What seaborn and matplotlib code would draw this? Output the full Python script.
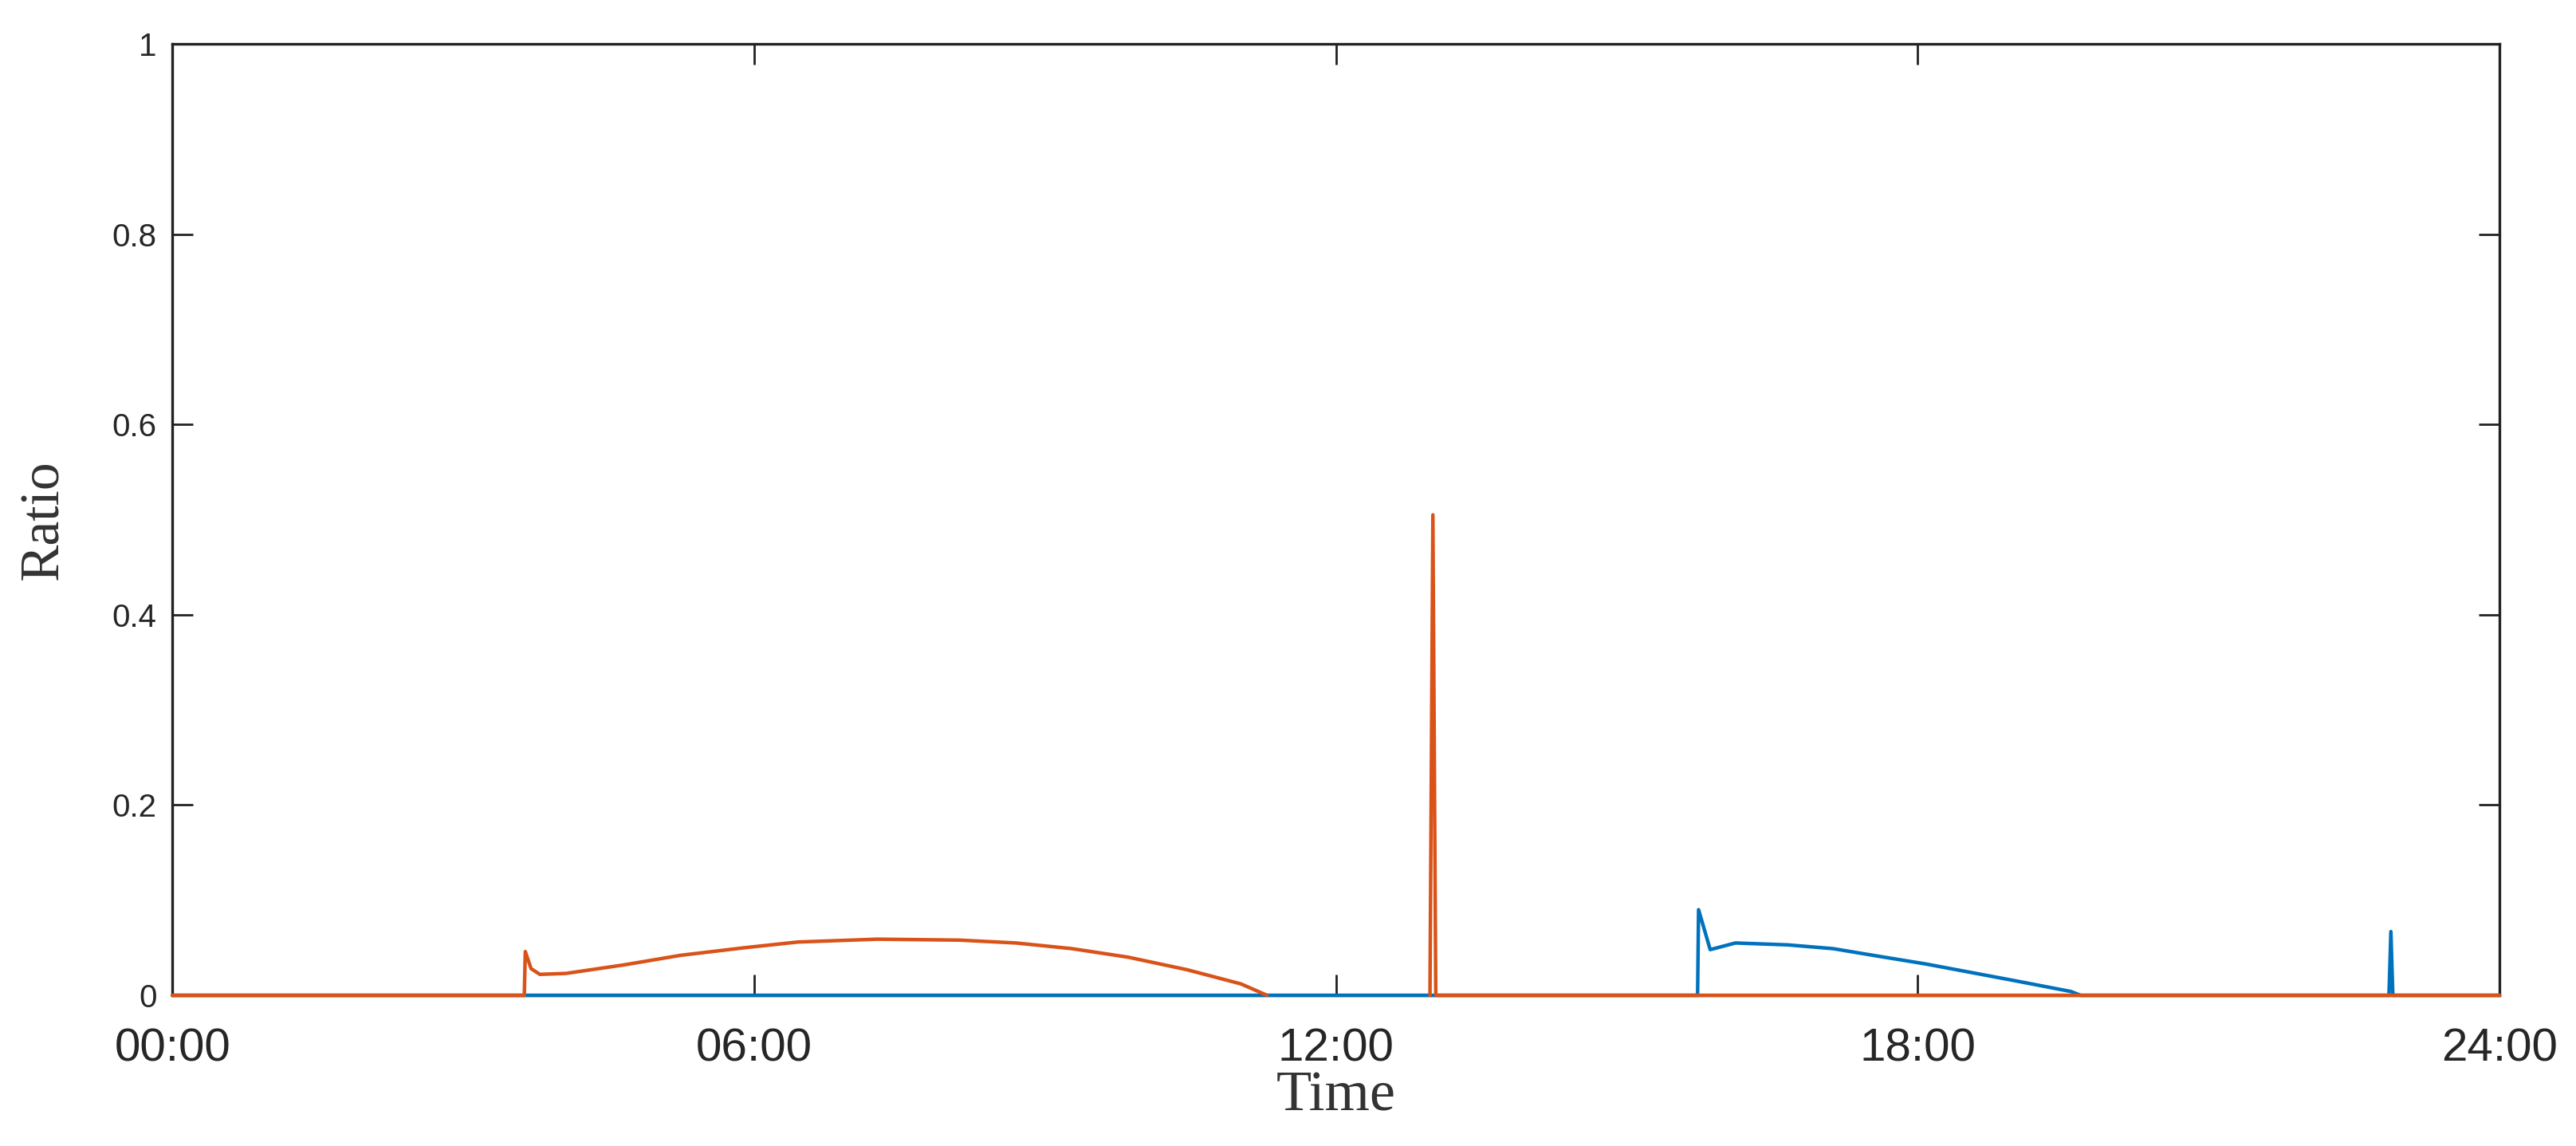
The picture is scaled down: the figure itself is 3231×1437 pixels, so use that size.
import numpy as np
import pandas as pd
import matplotlib
matplotlib.use("Agg")
import matplotlib.pyplot as plt
import seaborn as sns

# data (time in hours)
blue_hours = [0, 15.73, 15.74, 15.86, 16.12, 16.66, 17.13, 17.60, 18.08, 18.55,
              19.02, 19.58, 19.68, 22.86, 22.88, 22.90, 24]
blue_ratio = [0, 0, 0.090, 0.048, 0.055, 0.053, 0.049, 0.041, 0.033, 0.024,
              0.015, 0.004, 0, 0, 0.067, 0, 0]

orange_am_hours = [0, 3.63, 3.64, 3.70, 3.79, 4.06, 4.66, 5.24, 5.90, 6.45, 7.27,
                   8.12, 8.70, 9.28, 9.86, 10.46, 11.02, 11.29]
orange_am_ratio = [0, 0, 0.046, 0.028, 0.022, 0.023, 0.032, 0.042, 0.050, 0.056, 0.059,
                   0.058, 0.055, 0.049, 0.040, 0.027, 0.012, 0]

orange_pm_hours = [12.97, 13.0, 13.03, 24]
orange_pm_ratio = [0, 0.505, 0, 0]

x_ticks = [0, 6, 12, 18, 24]
x_labels = ["00:00", "06:00", "12:00", "18:00", "24:00"]
y_ticks = [0, 0.2, 0.4, 0.6, 0.8, 1]
y_labels = ["0", "0.2", "0.4", "0.6", "0.8", "1"]

blue = "#0072BD"
orange = "#D95319"

sns.set_style("white")

fig = plt.figure(figsize=(32.31, 14.37), dpi=100)
ax = fig.add_axes([0.0669, 0.1315, 0.9034, 0.8302])

line_kw = dict(linewidth=3.2, ax=ax, clip_on=False, zorder=3)
sns.lineplot(x=blue_hours, y=blue_ratio, color=blue, **line_kw)
sns.lineplot(x=orange_am_hours, y=orange_am_ratio, color=orange, **line_kw)
sns.lineplot(x=orange_pm_hours, y=orange_pm_ratio, color=orange, **line_kw)

ax.set_xlim(0, 24)
ax.set_ylim(0, 1)
ax.set_xticks(x_ticks)
ax.set_xticklabels(x_labels, fontfamily="Liberation Sans", fontsize=42, color="#262626")
ax.set_yticks(y_ticks)
ax.set_yticklabels(y_labels, fontfamily="Liberation Sans", fontsize=29, color="#262626")

for s in ax.spines.values():
    s.set_visible(True)
    s.set_color("#222222")
    s.set_linewidth(2.4)

ax.tick_params(axis="both", direction="in", length=19, width=2,
               top=True, right=True, bottom=True, left=True, color="#222222")
ax.tick_params(axis="x", pad=29)
ax.tick_params(axis="y", pad=14)

ax.set_xlabel("Time", fontfamily="Liberation Serif", fontsize=52, color="#333333", labelpad=0)
ax.set_ylabel("Ratio", fontfamily="Liberation Serif", fontsize=50, color="#333333", labelpad=38)

fig.savefig("out.png", dpi=100, facecolor="white")
